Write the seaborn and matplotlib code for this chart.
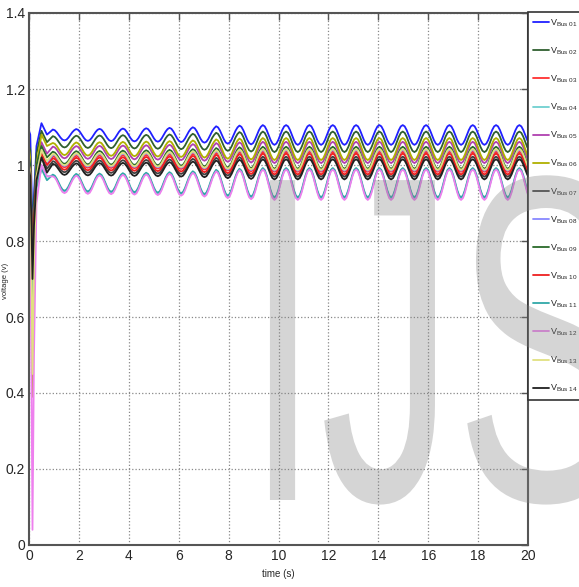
import numpy as np
import pandas as pd
import matplotlib
matplotlib.use("Agg")
import matplotlib.pyplot as plt
import seaborn as sns
from matplotlib.textpath import TextPath
from matplotlib.patches import PathPatch
from matplotlib.font_manager import FontProperties
import matplotlib.transforms as mtransforms

# bus names and line colours (matlab-like)
buses = ["01", "02", "03", "04", "05", "06", "07",
         "08", "09", "10", "11", "12", "13", "14"]
colors = ["#2020ff", "#2f5f2f", "#ff3030", "#70d0d0", "#b040b0", "#b0b000", "#404040",
          "#8888ff", "#2a6a2a", "#ee2020", "#30a8a8", "#ee80ee", "#e0e080", "#202020"]

# start-up transient, sampled at these times (s)
t_start = [0.0, 0.05, 0.1, 0.14, 0.2, 0.3, 0.5, 0.72]
start_01 = [1.09, 1.08, 0.95, 0.80, 0.92, 1.05, 1.11, 1.08]
start_02 = [1.05, 1.04, 0.90, 0.75, 0.90, 1.03, 1.09, 1.06]
start_03 = [1.00, 0.99, 0.85, 0.70, 0.85, 0.98, 1.03, 1.00]
start_04 = [0.97, 0.96, 0.80, 0.60, 0.80, 0.95, 1.00, 0.97]
start_05 = [1.02, 1.00, 0.85, 0.65, 0.85, 1.00, 1.06, 1.03]
start_06 = [1.04, 1.02, 0.70, 0.39, 0.75, 1.00, 1.08, 1.05]
start_07 = [1.00, 0.98, 0.85, 0.70, 0.85, 0.97, 1.03, 0.99]
start_08 = [1.00, 0.98, 0.85, 0.72, 0.85, 0.98, 1.04, 1.00]
start_09 = [1.02, 1.00, 0.87, 0.72, 0.87, 1.00, 1.05, 1.02]
start_10 = [1.00, 0.98, 0.85, 0.68, 0.85, 0.97, 1.03, 1.00]
start_11 = [0.97, 0.95, 0.80, 0.62, 0.80, 0.94, 0.99, 0.96]
start_12 = [0.96, 0.90, 0.40, 0.04, 0.50, 0.90, 1.00, 0.97]
start_13 = [1.00, 0.98, 0.70, 0.45, 0.75, 0.97, 1.04, 1.01]
start_14 = [0.99, 0.97, 0.84, 0.70, 0.84, 0.96, 1.02, 0.98]
starts = [start_01, start_02, start_03, start_04, start_05, start_06, start_07,
          start_08, start_09, start_10, start_11, start_12, start_13, start_14]

# steady oscillation: peak and trough voltage of each bus
peak_v = [1.105, 1.088, 1.035, 0.990, 1.061, 1.071, 1.022,
          1.040, 1.048, 1.030, 0.992, 0.988, 1.042, 1.015]
trough_v = [1.053, 1.034, 0.982, 0.912, 1.005, 1.013, 0.969,
            0.985, 0.990, 0.975, 0.915, 0.908, 0.987, 0.962]

# swing of each cycle relative to the steady swing (grows over first seconds)
swing_growth = [0.55, 0.6, 0.62, 0.65, 0.68, 0.72, 0.78, 0.88, 0.95, 1.0, 1.0,
                1.0, 1.0, 1.0, 1.0, 1.0, 1.0, 1.0, 1.0, 1.0, 1.0, 1.0]
# one cycle of the waveform, peak = 1, trough = -1
cycle_shape = [1.0, 0.87, 0.5, 0.0, -0.5, -0.87, -1.0, -0.87, -0.5, 0.0, 0.5, 0.87]
period = 0.935
first_peak = 0.955

rows = []
for i, b in enumerate(buses):
    name = f"Bus {b}"
    for t, v in zip(t_start, starts[i]):
        rows.append((t, v, name))
    mid = (peak_v[i] + trough_v[i]) / 2
    half = (peak_v[i] - trough_v[i]) / 2
    for k, g in enumerate(swing_growth):
        for j, s in enumerate(cycle_shape):
            t = first_peak + k * period + j * period / len(cycle_shape)
            if t <= 20.1:
                rows.append((t, mid + half * g * s, name))
df = pd.DataFrame(rows, columns=["time", "voltage", "bus"])

sns.set_style("white")
plt.rcParams["font.family"] = ["Liberation Sans", "DejaVu Sans"]

fig = plt.figure(figsize=(5.79, 5.87), dpi=100)
ax = fig.add_axes([29 / 579, 1 - 545 / 587, 499 / 579, 532 / 587])

palette = dict(zip([f"Bus {b}" for b in buses], colors))
sns.lineplot(data=df, x="time", y="voltage", hue="bus", palette=palette,
             estimator=None, sort=False, linewidth=1.3, ax=ax)

ax.set_xlim(0, 20)
ax.set_ylim(0, 1.4)
xticks = [0, 2, 4, 6, 8, 10, 12, 14, 16, 18, 20]
yticks = [0, 0.2, 0.4, 0.6, 0.8, 1.0, 1.2, 1.4]
ytick_labels = ["0", "0.2", "0.4", "0.6", "0.8", "1", "1.2", "1.4"]
ax.set_xticks(xticks)
ax.set_yticks(yticks)
ax.set_yticklabels(ytick_labels)
ax.tick_params(direction="in", length=5, width=1, color="#555555",
               top=True, right=True, labelsize=10, pad=3)
ax.grid(True, linestyle=":", color="#888888", linewidth=0.9)
for sp in ax.spines.values():
    sp.set_color("#555555")
    sp.set_linewidth(1.5)

ax.set_xlabel("time (s)", fontsize=7, labelpad=4)
ax.set_ylabel("voltage (v)", fontsize=5.5)
ax.yaxis.set_label_coords(-0.04, 0.497)

handles, labels = ax.get_legend_handles_labels()
ax.get_legend().remove()
leg_labels = [r"$\mathregular{V_{%s}}$" % l.replace(" ", r"\ ") for l in labels]
leg = fig.legend(handles, leg_labels, loc="upper left",
                 bbox_to_anchor=(528 / 579, 1 - 12 / 587), bbox_transform=fig.transFigure,
                 borderaxespad=0, fontsize=6.5, handlelength=1.7, handletextpad=0.1,
                 labelspacing=1.84, borderpad=0.6, fancybox=False, framealpha=1)
leg.get_frame().set_edgecolor("#333333")
leg.get_frame().set_linewidth(1.2)

# big semi-transparent watermark
tp = TextPath((0, 0), "IJS", size=1, prop=FontProperties(family="Liberation Sans"))
tr = mtransforms.Affine2D().scale(270, 465).translate(245, 87)
wm = PathPatch(tp, facecolor="#808080", edgecolor="none", alpha=0.33,
               transform=tr, zorder=10)
fig.add_artist(wm)

fig.savefig("out.png", dpi=100)
